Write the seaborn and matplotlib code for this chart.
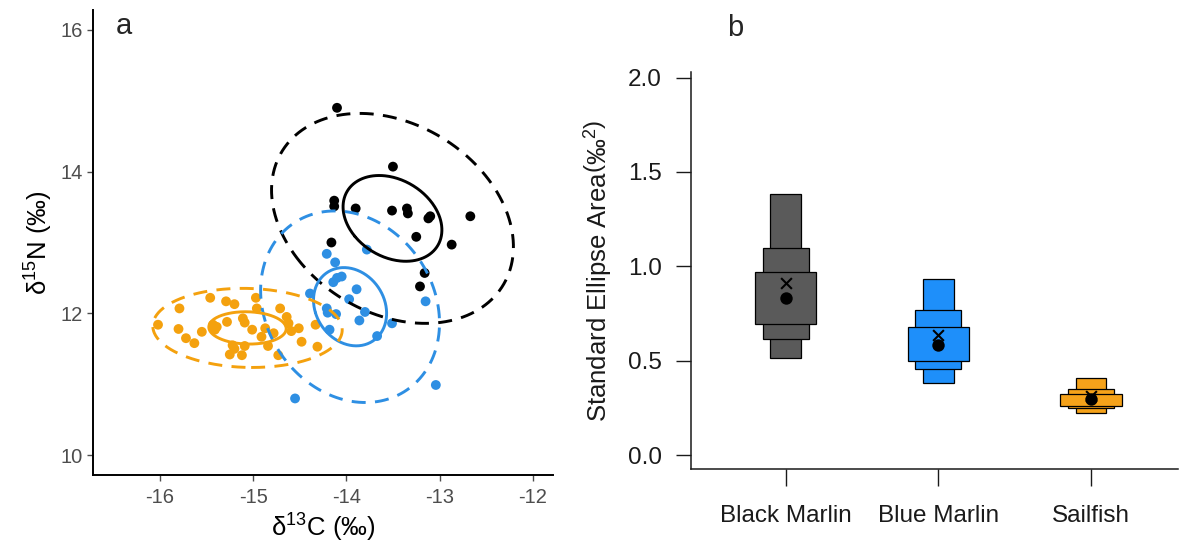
import numpy as np
import pandas as pd
import matplotlib
matplotlib.use("Agg")
import matplotlib.pyplot as plt
import seaborn as sns

# ---------------- data: panel a (isotopes) ----------------
species = ["Black Marlin", "Blue Marlin", "Sailfish"]
colors = ["#000000", "#2E8FE3", "#F4A10E"]
box_colors = ["#5A5A5A", "#1E8FFA", "#F5A21A"]

black_d13c = [-14.10, -13.50, -14.13, -14.13, -13.90, -13.51, -13.35, -13.34, -13.12, -13.10,
              -12.67, -13.25, -14.16, -12.87, -13.16, -13.21]
black_d15n = [14.90, 14.07, 13.59, 13.51, 13.48, 13.45, 13.48, 13.41, 13.34, 13.37,
              13.37, 13.08, 13.00, 12.97, 12.57, 12.38]

blue_d13c = [-14.21, -14.12, -13.78, -14.10, -14.05, -14.14, -13.89, -14.39, -14.21, -14.20,
             -14.11, -13.97, -13.80, -13.86, -13.51, -14.18, -13.67, -13.15, -13.04, -14.55]
blue_d15n = [12.84, 12.72, 12.90, 12.50, 12.52, 12.44, 12.34, 12.28, 12.07, 12.01,
             11.99, 12.20, 12.02, 11.90, 11.86, 11.77, 11.68, 12.17, 10.99, 10.80]

sail_d13c = [-16.02, -15.79, -15.80, -15.72, -15.63, -15.55, -15.46, -15.43, -15.41, -15.39,
             -15.29, -15.20, -15.28, -15.11, -15.09, -15.01, -14.97, -14.96, -14.91, -14.84,
             -15.22, -15.20, -15.25, -15.12, -15.09, -14.71, -14.64, -14.62, -14.59, -14.51,
             -14.48, -14.73, -14.33, -14.31, -14.78, -14.87]
sail_d15n = [11.84, 12.07, 11.78, 11.65, 11.58, 11.74, 12.22, 11.84, 11.77, 11.81,
             12.17, 12.13, 11.88, 11.93, 11.87, 11.77, 12.22, 12.07, 11.67, 11.54,
             11.55, 11.50, 11.42, 11.41, 11.54, 12.07, 11.95, 11.86, 11.75, 11.79,
             11.60, 11.41, 11.84, 11.53, 11.72, 11.79]

# standard-ellipse parameters per species (centre, SDs, correlation)
ell_cx = [-13.505, -13.96, -15.06]
ell_cy = [13.34, 12.094, 11.795]
ell_sdx = [0.53, 0.392, 0.415]
ell_sdy = [0.605, 0.552, 0.228]
ell_rho = [-0.27, -0.17, -0.05]
chi2_95 = 5.991  # 95% ellipse (dashed)

x_ticks_a = [-16, -15, -14, -13, -12]
y_ticks_a = [10, 12, 14, 16]

# ---------------- data: panel b (SEA posterior) ----------------
sea_mode = [0.831, 0.583, 0.297]
sea_c = [0.909, 0.637, 0.314]
ci95_lo = [0.514, 0.381, 0.221]
ci95_hi = [1.382, 0.934, 0.406]
ci75_lo = [0.614, 0.457, 0.249]
ci75_hi = [1.096, 0.768, 0.350]
ci50_lo = [0.694, 0.496, 0.261]
ci50_hi = [0.971, 0.676, 0.323]
y_ticks_b = [0.0, 0.5, 1.0, 1.5, 2.0]

# ---------------- style ----------------
sns.set_theme(style="ticks")
plt.rcParams["font.family"] = ["Liberation Sans", "DejaVu Sans"]
plt.rcParams["mathtext.fontset"] = "custom"
plt.rcParams["mathtext.rm"] = "Liberation Sans"
plt.rcParams["mathtext.it"] = "Liberation Sans"
plt.rcParams["axes.unicode_minus"] = False

fig = plt.figure(figsize=(11.8, 5.48), dpi=100)
fig.patch.set_facecolor("white")

# ---------------- panel a ----------------
ax1 = fig.add_axes([0.0786, 0.1332, 0.3903, 0.8486])
df = pd.concat([
    pd.DataFrame({"d13C": black_d13c, "d15N": black_d15n, "species": species[0]}),
    pd.DataFrame({"d13C": blue_d13c, "d15N": blue_d15n, "species": species[1]}),
    pd.DataFrame({"d13C": sail_d13c, "d15N": sail_d15n, "species": species[2]}),
], ignore_index=True)

sns.scatterplot(data=df, x="d13C", y="d15N", hue="species", hue_order=species,
                palette=colors, s=50, linewidth=0, legend=False, ax=ax1, zorder=2)


def ellipse_path(cx, cy, sdx, sdy, rho, scale, npts=300):
    cov = np.array([[sdx ** 2, rho * sdx * sdy], [rho * sdx * sdy, sdy ** 2]])
    vals, vecs = np.linalg.eigh(cov)
    t = np.linspace(0, 2 * np.pi, npts)
    circ = np.vstack([np.cos(t), np.sin(t)])
    pts = vecs @ (np.sqrt(vals)[:, None] * circ) * scale
    return pts[0] + cx, pts[1] + cy


for i, col in enumerate(colors):
    ex, ey = ellipse_path(ell_cx[i], ell_cy[i], ell_sdx[i], ell_sdy[i], ell_rho[i], 1.0)
    ax1.plot(ex, ey, color=col, lw=2.1, zorder=3)
    ex, ey = ellipse_path(ell_cx[i], ell_cy[i], ell_sdx[i], ell_sdy[i], ell_rho[i], np.sqrt(chi2_95))
    ax1.plot(ex, ey, color=col, lw=2.1, dashes=(4.8, 3.2), zorder=3)

ax1.set_xlim(-16.72, -11.78)
ax1.set_ylim(9.72, 16.28)
ax1.set_xticks(x_ticks_a)
ax1.set_xticklabels([str(v) for v in x_ticks_a])
ax1.set_yticks(y_ticks_a)
ax1.set_yticklabels([str(v) for v in y_ticks_a])
ax1.tick_params(axis="both", labelsize=14.5, colors="#4D4D4D", length=4, width=1.0, pad=3)
ax1.tick_params(axis="x", pad=5)
for side in ["top", "right"]:
    ax1.spines[side].set_visible(False)
for side in ["left", "bottom"]:
    ax1.spines[side].set_color("black")
    ax1.spines[side].set_linewidth(1.4)
ax1.set_xlabel("δ$^{13}$C (‰)", fontsize=18.5, color="black", labelpad=4)
ax1.set_ylabel("δ$^{15}$N (‰)", fontsize=18.5, color="black", labelpad=4)
ax1.text(0.05, 0.965, "a", transform=ax1.transAxes, fontsize=21, va="center", ha="left")

# ---------------- panel b ----------------
ax2 = fig.add_axes([0.5856, 0.1442, 0.4127, 0.7245])
pos = np.arange(len(species))
ax2.bar(pos, np.array(ci95_hi) - np.array(ci95_lo), bottom=ci95_lo, width=0.2,
        color=box_colors, edgecolor="black", linewidth=0.9, zorder=2)
ax2.bar(pos, np.array(ci75_hi) - np.array(ci75_lo), bottom=ci75_lo, width=0.3,
        color=box_colors, edgecolor="black", linewidth=0.9, zorder=3)
ax2.bar(pos, np.array(ci50_hi) - np.array(ci50_lo), bottom=ci50_lo, width=0.4,
        color=box_colors, edgecolor="black", linewidth=0.9, zorder=4)
sns.scatterplot(x=pos, y=sea_mode, color="black", s=80, linewidth=0, ax=ax2, zorder=5)
sns.scatterplot(x=pos, y=sea_c, color="black", marker="x", s=60, linewidth=1.5, ax=ax2, zorder=6)

ax2.set_xlim(-0.62, 2.57)
ax2.set_ylim(-0.074, 2.03)
ax2.set_xticks(pos)
ax2.set_xticklabels(species)
ax2.set_yticks(y_ticks_b)
ax2.set_yticklabels([f"{v:.1f}" for v in y_ticks_b])
ax2.tick_params(axis="y", labelsize=17.5, colors="#1A1A1A", length=11, width=1.0, pad=10)
ax2.tick_params(axis="x", labelsize=17.5, colors="#1A1A1A", length=12, width=1.0, pad=14)
for side in ["top", "right"]:
    ax2.spines[side].set_visible(False)
for side in ["left", "bottom"]:
    ax2.spines[side].set_color("#1A1A1A")
    ax2.spines[side].set_linewidth(1.1)
ax2.set_ylabel("Standard Ellipse Area$\\left(‰^{2}\\right)$", fontsize=18.5, color="#1A1A1A", labelpad=9)
ax2.set_xlabel("")
fig.text(735 / 1180, 1 - 28 / 548, "b", fontsize=21, ha="center", va="center")

fig.savefig("out.png", dpi=100, facecolor="white")
